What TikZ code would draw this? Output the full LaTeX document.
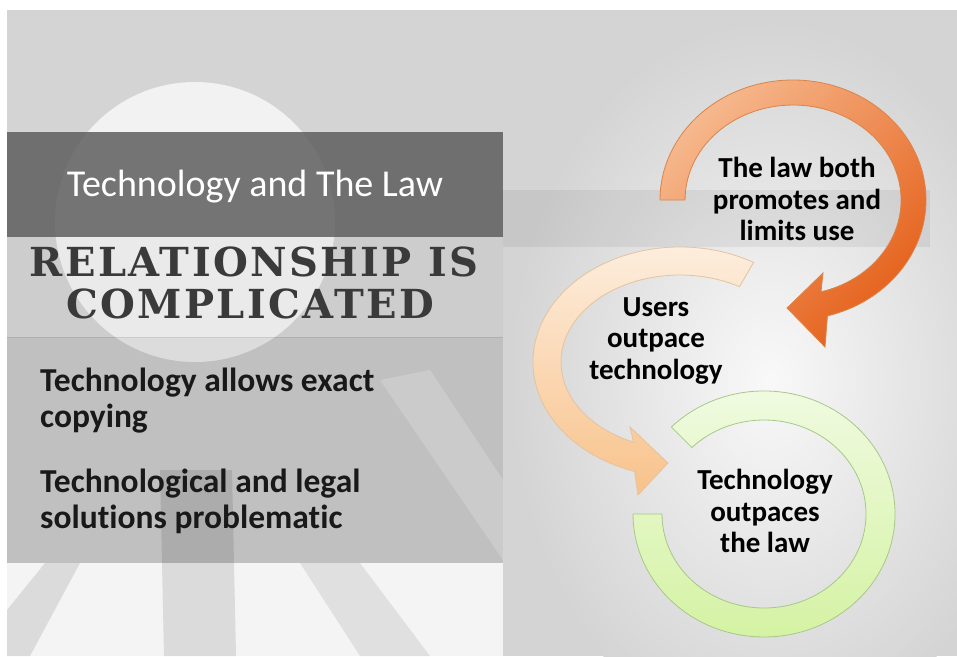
\documentclass[tikz,border=0pt]{standalone}
\usepackage{fontspec}
\setmainfont{Carlito}[Ligatures=NoCommon]
\newfontfamily\chalkfont{DejaVu Serif}[LetterSpace=6]
\usetikzlibrary{positioning}

\definecolor{bggrey}{HTML}{D4D4D4}
\definecolor{bandgrey}{HTML}{5E5E5E}
\definecolor{chalk}{HTML}{3A3A3A}
\definecolor{ortop}{HTML}{F6B78C}
\definecolor{orbot}{HTML}{E5601A}
\definecolor{orline}{HTML}{D8854C}
\definecolor{petop}{HTML}{FDF0E2}
\definecolor{pebot}{HTML}{F8C28A}
\definecolor{peline}{HTML}{E3C3A0}
\definecolor{grtop}{HTML}{F1FBE3}
\definecolor{grbot}{HTML}{D3F2A0}
\definecolor{grline}{HTML}{A6C889}

\tikzset{
  title text/.style={font=\fontsize{38}{44}\selectfont, text=white, inner sep=0pt, anchor=base},
  chalk text/.style={font=\chalkfont\bfseries\fontsize{40}{44}\selectfont, text=chalk, inner sep=0pt, anchor=base},
  bullet text/.style={font=\bfseries\fontsize{33.5}{36}\selectfont, text=black!90, align=left, inner sep=0pt},
  arrow text/.style={font=\bfseries\fontsize{29}{31.5}\selectfont, text=black, align=center, inner sep=0pt},
  orange arc/.style={draw=orline, line width=0.8pt, top color=ortop, bottom color=orbot, shading angle=45},
  peach arc/.style={draw=peline, line width=0.8pt, top color=petop, bottom color=pebot},
  green arc/.style={draw=grline, line width=0.8pt, top color=grtop, bottom color=grbot},
}

\begin{document}
\begin{tikzpicture}[x=1pt,y=-1pt]
  \useasboundingbox (0,0) rectangle (957,656);
  \fill[white] (0,0) rectangle (957,656);

  % photo behind the slide, only roughly
  \fill[bggrey] (7,10) rectangle (957,656);
  \shade[inner color=white!85!bggrey, outer color=bggrey] (770,380) ellipse (260 and 360);
  \fill[white, opacity=.7] (195,222) circle (140);
  \fill[black, opacity=.06] (503,190) rectangle (930,247);
  \fill[white, opacity=.75] (7,563) rectangle (503,656);
  \fill[black, opacity=.1] (7,610) -- (45,563) -- (80,563) -- (30,656) -- (7,656) -- cycle;
  \fill[black, opacity=.1] (160,470) -- (232,470) -- (236,656) -- (164,656) -- cycle;
  \fill[black, opacity=.08] (300,563) -- (360,563) -- (430,656) -- (360,656) -- cycle;
  \fill[white, opacity=.3] (380,380) -- (430,370) -- (503,480) -- (503,560) -- cycle;

  % left panel
  \fill[bandgrey, opacity=.85] (7,132) rectangle (503,237);
  \fill[black, opacity=.03] (7,237) rectangle (503,337);
  \fill[black, opacity=.09] (7,337) rectangle (503,563);
  \draw[black, opacity=.08] (7,337) -- (503,337);

  \node[title text] (title) at (255,196) {Technology and The Law};
  \node[chalk text] (rel) at (254,276) {RELATIONSHIP IS};
  \node[chalk text] (comp) at (250,318) {COMPLICATED};

  \node[bullet text, anchor=north west] (b1) at (40,368) {Technology allows exact\\copying};
  \node[bullet text, below=35pt of b1.south west, anchor=north west] (b2) {Technological and legal\\solutions problematic};

  % the three circular arrows
  \path[green arc] (671.4,427) arc[start angle=225, end angle=540, x radius=131, y radius=123]
    -- (662,514) arc[start angle=540, end angle=225, x radius=102, y radius=94] -- cycle;

  \path[peach arc] (753.5,262.4) arc[start angle=300, end angle=108, x radius=147, y radius=115]
    -- (638,495) -- (668,463) -- (630,427) -- (633.5,442.1)
    arc[start angle=113, end angle=300, x radius=119, y radius=87] -- cycle;

  \path[orange arc] (660,200) arc[start angle=180, end angle=435, x radius=133, y radius=120]
    -- (825,347) -- (787,308) -- (823,273) -- (821,291.8)
    arc[start angle=435, end angle=180, x radius=108, y radius=95] -- cycle;

  \node[arrow text] (law) at (797,199) {The law both\\promotes and\\limits use};
  \node[arrow text] (users) at (656,341) {Users\\outpace\\technology};
  \node[arrow text] (tech) at (765,511) {Technology\\outpaces\\the law};
\end{tikzpicture}
\end{document}
